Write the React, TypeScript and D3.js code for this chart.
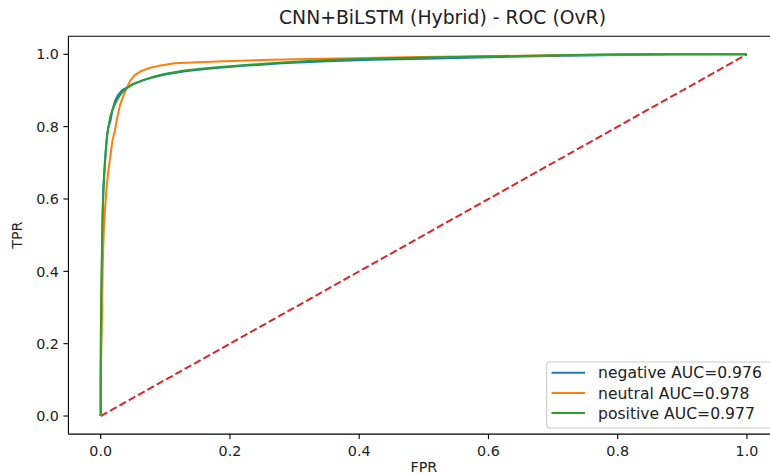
import React from "react";
import * as d3 from "d3";

const title = "CNN+BiLSTM (Hybrid) - ROC (OvR)";
const xLabel = "FPR";
const yLabel = "TPR";
const xTicks = [0, 0.2, 0.4, 0.6, 0.8, 1.0];
const yTicks = [0, 0.2, 0.4, 0.6, 0.8, 1.0];

const classNames = ["negative", "neutral", "positive"];
const aucValues = ["0.976", "0.978", "0.977"];
const colors = ["#1f77b4", "#ff7f0e", "#2ca02c"];

const negFpr = [0, 0, 0.001, 0.002, 0.003, 0.004, 0.006, 0.008, 0.010, 0.012, 0.015, 0.018, 0.022, 0.027, 0.033, 0.040, 0.050, 0.065, 0.08, 0.10, 0.13, 0.17, 0.22, 0.28, 0.35, 0.42, 0.50, 0.60, 0.70, 0.80, 0.90, 1.0];
const negTpr = [0, 0.12, 0.30, 0.45, 0.55, 0.63, 0.69, 0.74, 0.78, 0.80, 0.815, 0.845, 0.87, 0.888, 0.90, 0.908, 0.918, 0.928, 0.936, 0.944, 0.953, 0.961, 0.968, 0.975, 0.981, 0.985, 0.988, 0.992, 0.995, 0.998, 1.0, 1.0];

const neuFpr = [0, 0, 0.002, 0.003, 0.004, 0.005, 0.007, 0.009, 0.012, 0.015, 0.018, 0.022, 0.026, 0.030, 0.035, 0.040, 0.046, 0.053, 0.062, 0.075, 0.09, 0.115, 0.15, 0.18, 0.25, 0.32, 0.39, 0.47, 0.55, 0.65, 0.75, 0.85, 1.0];
const neuTpr = [0, 0.1, 0.28, 0.40, 0.47, 0.52, 0.58, 0.63, 0.68, 0.72, 0.76, 0.79, 0.83, 0.86, 0.885, 0.906, 0.928, 0.943, 0.953, 0.962, 0.968, 0.975, 0.978, 0.980, 0.984, 0.987, 0.989, 0.992, 0.994, 0.996, 0.998, 1.0, 1.0];

const posFpr = [0, 0, 0.001, 0.002, 0.003, 0.005, 0.007, 0.009, 0.012, 0.015, 0.019, 0.023, 0.028, 0.034, 0.040, 0.050, 0.065, 0.08, 0.10, 0.13, 0.17, 0.22, 0.28, 0.35, 0.42, 0.50, 0.60, 0.70, 0.80, 1.0];
const posTpr = [0, 0.2, 0.35, 0.48, 0.57, 0.65, 0.71, 0.76, 0.80, 0.83, 0.85, 0.866, 0.882, 0.896, 0.906, 0.917, 0.928, 0.937, 0.946, 0.955, 0.963, 0.970, 0.977, 0.984, 0.988, 0.991, 0.994, 0.997, 1.0, 1.0];

const chanceX = [0, 1];
const chanceY = [0, 1];

const W = 770;
const H = 474;
const FONT = "DejaVu Sans, sans-serif";

export default function App() {
  const left = 68.4;
  const right = 779.3;
  const top = 36.2;
  const bottom = 434.1;

  const x = d3.scaleLinear().domain([-0.05, 1.05]).range([left, right]);
  const y = d3.scaleLinear().domain([-0.05, 1.05]).range([bottom, top]);

  const series = [
    { fpr: negFpr, tpr: negTpr },
    { fpr: neuFpr, tpr: neuTpr },
    { fpr: posFpr, tpr: posTpr },
  ];

  const line = d3
    .line<[number, number]>()
    .x((d) => x(d[0]))
    .y((d) => y(d[1]));

  const chancePath = line(chanceX.map((v, i) => [v, chanceY[i]] as [number, number])) || "";

  const legX = 546.7;
  const legY = 362;
  const legW = 228;
  const legH = 66;
  const rowY = [372.7, 392.9, 413.1];
  const fs = 14.3;
  const legFs = 15.6;

  return (
    <svg
      width={W}
      height={H}
      style={{ position: "absolute", left: 0, top: 0, background: "#fff" }}
      fontFamily={FONT}
    >
      <rect x={0} y={0} width={W} height={H} fill="#fff" />
      <defs>
        <clipPath id="axclip">
          <rect x={left} y={top} width={right - left} height={bottom - top} />
        </clipPath>
      </defs>

      <g clipPath="url(#axclip)">
        <path
          d={chancePath}
          fill="none"
          stroke="#d62728"
          strokeWidth={2}
          strokeDasharray="7.5,3.2"
        />
        {series.map((s, i) => (
          <path
            key={i}
            d={line(s.fpr.map((v, j) => [v, s.tpr[j]] as [number, number])) || ""}
            fill="none"
            stroke={colors[i]}
            strokeWidth={2}
            strokeLinejoin="round"
          />
        ))}
      </g>

      {/* spines */}
      <line x1={left} x2={left} y1={top} y2={bottom} stroke="#000" strokeWidth={1.1} />
      <line x1={left} x2={right} y1={bottom} y2={bottom} stroke="#000" strokeWidth={1.1} />
      <line x1={left} x2={right} y1={top} y2={top} stroke="#000" strokeWidth={1.1} />
      <line x1={right} x2={right} y1={top} y2={bottom} stroke="#000" strokeWidth={1.1} />

      {/* x ticks */}
      {xTicks.map((t) => (
        <g key={"x" + t}>
          <line x1={x(t)} x2={x(t)} y1={bottom} y2={bottom + 5} stroke="#000" strokeWidth={1.1} />
          <text x={x(t)} y={bottom + 21.5} fontSize={fs} textAnchor="middle" fill="#222">
            {t.toFixed(1)}
          </text>
        </g>
      ))}

      {/* y ticks */}
      {yTicks.map((t) => (
        <g key={"y" + t}>
          <line x1={left - 5} x2={left} y1={y(t)} y2={y(t)} stroke="#000" strokeWidth={1.1} />
          <text x={left - 9.5} y={y(t) + 5.2} fontSize={fs} textAnchor="end" fill="#222">
            {t.toFixed(1)}
          </text>
        </g>
      ))}

      {/* labels */}
      <text x={(left + right) / 2} y={472} fontSize={fs} textAnchor="middle" fill="#222">
        {xLabel}
      </text>
      <text
        transform={`translate(22,${(top + bottom) / 2}) rotate(-90)`}
        fontSize={fs}
        textAnchor="middle"
        fill="#222"
      >
        {yLabel}
      </text>
      <text x={442.5} y={24} fontSize={18.8} textAnchor="middle" fill="#222">
        {title}
      </text>

      {/* legend */}
      <rect
        x={legX}
        y={legY}
        width={legW}
        height={legH}
        rx={2.8}
        ry={2.8}
        fill="#fff"
        fillOpacity={0.8}
        stroke="#cccccc"
        strokeWidth={1.1}
      />
      {classNames.map((c, i) => (
        <g key={c}>
          <line x1={551.5} x2={585} y1={rowY[i]} y2={rowY[i]} stroke={colors[i]} strokeWidth={2} />
          <text x={598} y={rowY[i] + 5.6} fontSize={legFs} fill="#222">
            {`${c} AUC=${aucValues[i]}`}
          </text>
        </g>
      ))}
    </svg>
  );
}
